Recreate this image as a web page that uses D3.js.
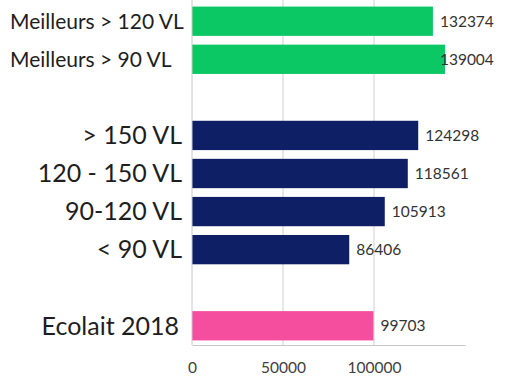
<!DOCTYPE html>
<html><head><meta charset="utf-8">
<script src="https://cdn.jsdelivr.net/npm/d3@7"></script>
<style>body{margin:0;background:#fff}svg{display:block}</style>
</head><body>
<svg id="c" width="519" height="388"></svg>
<script>
const categories = ["Meilleurs > 120 VL","Meilleurs > 90 VL","> 150 VL","120 - 150 VL","90-120 VL","< 90 VL","Ecolait 2018"];
const values = [132374,139004,124298,118561,105913,86406,99703];
const groups = ["best","best","herd","herd","herd","herd","ref"];
const tickValues = [0,50000,100000];

const colors = {best:"#0cc864", herd:"#0e1f66", ref:"#f54e9f"};
const labelSize = {best:21, herd:25, ref:25};
const labelX = {best:10, herd:182, ref:179};
const labelAnchor = {best:"start", herd:"end", ref:"end"};

const svg = d3.select("#c");
const font = "Lato, 'Open Sans', sans-serif";

// build slots with a gap between groups
const slots = [];
categories.forEach((c,i)=>{
  if(i>0 && groups[i]!==groups[i-1]) slots.push("gap"+i);
  slots.push(c);
});

const x = d3.scaleLinear().domain([0,150000]).range([192,465]);
const y = d3.scaleBand().domain(slots).range([2,345]).paddingInner(0.23).paddingOuter(0.12);

// gridlines
svg.append("g").selectAll("line").data(tickValues.slice(1)).join("line")
  .attr("x1",d=>x(d)).attr("x2",d=>x(d)).attr("y1",0).attr("y2",345)
  .attr("stroke","#d0d0d0").attr("stroke-width",1);

// bars
const data = categories.map((c,i)=>({c,v:values[i],g:groups[i]}));
svg.append("g").selectAll("rect").data(data).join("rect")
  .attr("x",x(0)).attr("y",d=>y(d.c)).attr("width",d=>x(d.v)-x(0)).attr("height",y.bandwidth())
  .attr("fill",d=>colors[d.g]);

// value labels
const maxLabelX = x(132374)+7;
svg.append("g").selectAll("text").data(data).join("text")
  .attr("x",d=>Math.min(x(d.v)+7, maxLabelX)).attr("y",d=>y(d.c)+y.bandwidth()/2)
  .attr("dy","0.35em").attr("font-family",font).attr("font-size",15.5).attr("fill","#333")
  .text(d=>d.v);

// category labels
svg.append("g").selectAll("text").data(data).join("text")
  .attr("x",d=>labelX[d.g]).attr("y",d=>y(d.c)+y.bandwidth()/2)
  .attr("dy","0.35em").attr("text-anchor",d=>labelAnchor[d.g]).attr("font-family",font)
  .attr("font-size",d=>labelSize[d.g]).attr("fill","#1e1e1e")
  .text(d=>d.c);

// axes
svg.append("line").attr("x1",x(0)).attr("x2",x(0)).attr("y1",0).attr("y2",345)
  .attr("stroke","#c8c8c8");
const ax = svg.append("g").attr("transform","translate(0,345)")
  .call(d3.axisBottom(x).tickValues(tickValues).tickSize(0).tickPadding(17).tickFormat(d3.format("d")));
ax.select(".domain").attr("stroke","#c8c8c8");
ax.selectAll("text").attr("font-family",font).attr("font-size",15.5).attr("fill","#404040");
</script>
</body></html>
